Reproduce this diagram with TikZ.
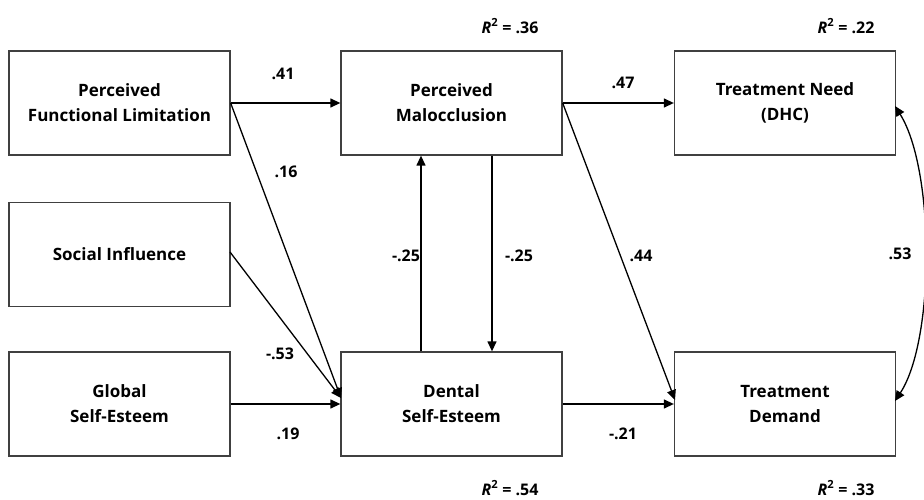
\documentclass[tikz,border=0pt]{standalone}
\usepackage{fontspec}
\setmainfont{Open Sans}
\usetikzlibrary{arrows.meta}
\begin{document}
\begin{tikzpicture}[x=1pt,y=-1pt,
  box/.style={draw=black!75,line width=1.3pt,minimum width=221pt,minimum height=104pt,align=center,inner sep=0pt,font=\fontsize{17}{25}\selectfont\bfseries},
  conn/.style={line width=1.3pt,-{Triangle[length=10pt,width=9pt]}},
  lbl/.style={font=\fontsize{16}{18}\selectfont\bfseries},
  rsq/.style={font=\fontsize{16}{18}\selectfont\bfseries}]
\useasboundingbox (0,0) rectangle (924,500);
\node[box] (pfl) at (119.5,103) {Perceived\\Functional Limitation};
\node[box] (si)  at (119.5,254.5) {Social Influence};
\node[box] (gse) at (119.5,404) {Global\\Self-Esteem};
\node[box] (pm)  at (451.5,103) {Perceived\\Malocclusion};
\node[box] (dse) at (451.5,404) {Dental\\Self-Esteem};
\node[box] (tn)  at (785,103) {Treatment Need\\(DHC)};
\node[box] (td)  at (785,404) {Treatment\\Demand};
\coordinate (dsein) at (341,398);
\coordinate (tdin) at (675,400);
\coordinate (siout) at (230,252);
\draw[conn] (pfl.east) -- (pm.west);
\draw[conn] (pfl.east) -- (dsein);
\draw[conn] (siout) -- (dsein);
\draw[conn] (gse.east) -- (dse.west);
\draw[conn] (dse.north -| 421,0) -- (pm.south -| 421,0);
\draw[conn] (pm.south -| 492,0) -- (dse.north -| 492,0);
\draw[conn] (pm.east) -- (tn.west);
\draw[conn] (pm.east) -- (tdin);
\draw[conn] (dse.east) -- (td.west);
\draw[line width=1.3pt,{Triangle[length=10pt,width=9pt]}-{Triangle[length=10pt,width=9pt]}] (895,106) .. controls (935,170) and (935,340) .. (895,401);
\node[lbl] (l41) at (283,74) {.41};
\node[lbl] (l16) at (286,172) {.16};
\node[lbl] (l53a) at (280,354) {-.53};
\node[lbl] (l19) at (288,434) {.19};
\node[lbl] (l25a) at (406,256) {-.25};
\node[lbl] (l25b) at (519,256) {-.25};
\node[lbl] (l47) at (623,83) {.47};
\node[lbl] (l44) at (641,256) {.44};
\node[lbl] (l21) at (623,434) {-.21};
\node[lbl] (l53b) at (900,254) {.53};
\node[rsq] (r36) at (510,26) {\textit{R}\textsuperscript{2} = .36};
\node[rsq] (r22) at (846,26) {\textit{R}\textsuperscript{2} = .22};
\node[rsq] (r54) at (510,488) {\textit{R}\textsuperscript{2} = .54};
\node[rsq] (r33) at (846,488) {\textit{R}\textsuperscript{2} = .33};
\end{tikzpicture}
\end{document}
